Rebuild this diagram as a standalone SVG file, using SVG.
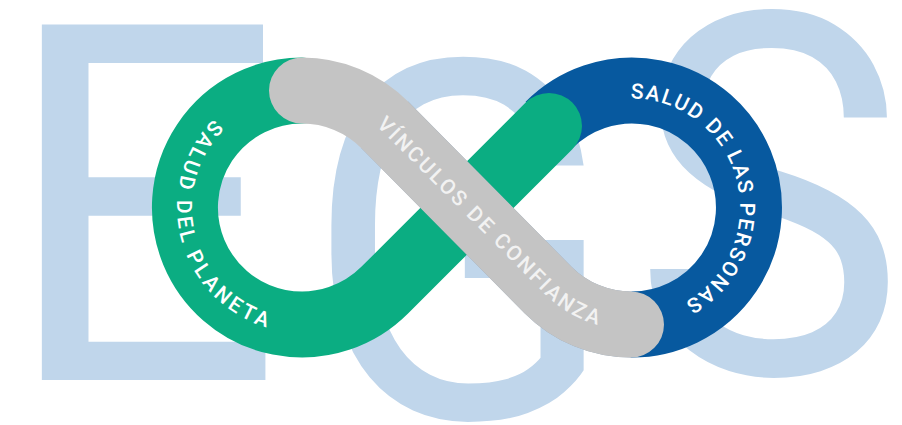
<svg xmlns="http://www.w3.org/2000/svg" width="902" height="425" viewBox="0 0 902 425">
<style>
.bg{font-family:Roboto,"Liberation Sans",sans-serif;font-weight:380;font-size:500px;fill:#c0d6eb}
.band{fill:none;stroke-width:66}
.lab{font-family:Roboto,"Liberation Sans",sans-serif;font-size:21px;font-weight:500;fill:#fff;letter-spacing:1.7px}
</style>
<defs>
<path id="pL" d="M 239.5 99.25 A 125 125 0 0 0 302 332.5"/>
<path id="pR" d="M 603.5 102 A 109 109 0 0 1 658.5 313"/>
<path id="pM" d="M 376 125.2 L 544.7 293.8 A 122 122 0 0 0 631 329.5"/>
</defs>
<rect width="902" height="425" fill="#fff"/>
<g id="letters">
<text class="bg" transform="translate(1,380) scale(0.99,1)">E</text>
<text class="bg" transform="translate(304,417) scale(0.92,1)">G</text>
<text class="bg" transform="translate(632,373) scale(0.92,1.01)">S</text>
</g>
<g id="node-personas">
<path class="band" stroke="#07599f" d="M 549 125 A 117 117 0 1 1 631 324.5"/>
<text class="lab"><textPath href="#pR" startOffset="50%" text-anchor="middle">SALUD DE LAS PERSONAS</textPath></text>
</g>
<g id="node-planeta">
<path class="band" stroke="#0bad82" stroke-linecap="round" d="M 302 90.5 A 117 117 0 1 0 384.7 290.2 L 549 125.9"/>
<text class="lab" style="letter-spacing:3.4px"><textPath href="#pL" startOffset="50%" text-anchor="middle">SALUD DEL PLANETA</textPath></text>
</g>
<g id="node-vinculos">
<path class="band" stroke="#8fa3b8" stroke-width="66.6" d="M 384.7 124.8 L 548.3 290.2 A 117 117 0 0 0 631 324.5"/>
<path class="band" stroke="#c4c4c4" stroke-linecap="round" d="M 302 90.5 A 117 117 0 0 1 384.7 124.8 L 548.3 290.2 A 117 117 0 0 0 631 324.5"/>
<text class="lab" style="fill:#f2f2f2;letter-spacing:2.4px"><textPath href="#pM">VÍNCULOS DE CONFIANZA</textPath></text>
</g>
</svg>
